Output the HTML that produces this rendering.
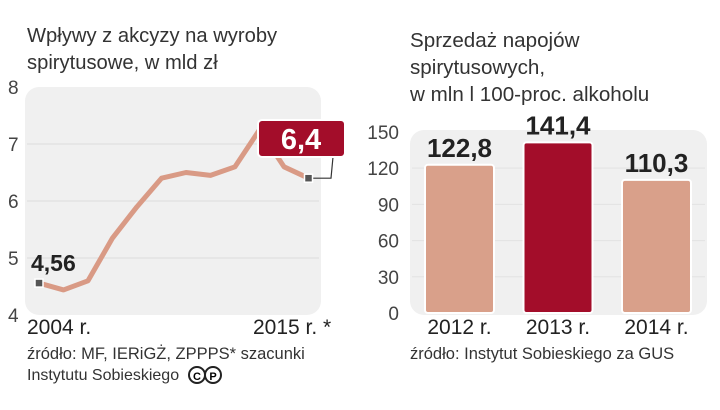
<!DOCTYPE html>
<html><head><meta charset="utf-8"><style>
body{margin:0;width:720px;height:405px;background:#fff;overflow:hidden;font-family:"Liberation Sans",sans-serif;color:#333}
svg text{font-family:"Liberation Sans",sans-serif}
</style></head><body>
<svg width="720" height="405">
<text x="27" y="42" font-size="20.2" fill="#333">Wpływy z akcyzy na wyroby</text>
<text x="27" y="69" font-size="20.2" fill="#333">spirytusowe, w mld zł</text>
<text x="410" y="47" font-size="20.6" fill="#333">Sprzedaż napojów</text>
<text x="410" y="74" font-size="20.6" fill="#333">spirytusowych,</text>
<text x="410" y="101" font-size="20.6" fill="#333">w mln l 100-proc. alkoholu</text>
<rect x="25" y="87" width="296" height="228" rx="14" fill="#f0f0f0"/>
<rect x="410" y="130" width="297" height="185" rx="14" fill="#f0f0f0"/>
<g id="left"></g><g id="right"></g>
<text x="27" y="359" font-size="16.5" fill="#333">źródło: MF, IERiGŻ, ZPPPS* szacunki</text>
<text x="27" y="380" font-size="16" fill="#333">Instytutu Sobieskiego</text>
<g><circle cx="197" cy="375" r="8" fill="none" stroke="#222" stroke-width="2"/><text x="197" y="380" font-size="11" font-weight="bold" text-anchor="middle">C</text><circle cx="213" cy="375" r="8" fill="none" stroke="#222" stroke-width="2"/><text x="213" y="380" font-size="11" font-weight="bold" text-anchor="middle">P</text></g>
<text x="410" y="359" font-size="16.5" fill="#333">źródło: Instytut Sobieskiego za GUS</text>
</svg>
<script>
const years=[2004,2005,2006,2007,2008,2009,2010,2011,2012,2013,2014,2015];
const revenue=[4.56,4.44,4.6,5.35,5.9,6.4,6.5,6.45,6.6,7.25,6.6,6.4];
const yTicksL=[4,5,6,7,8];
const barCats=["2012 r.","2013 r.","2014 r."];
const barVals=[122.8,141.4,110.3];
const barLabels=["122,8","141,4","110,3"];
const yTicksR=[0,30,60,90,120,150];
const NS="http://www.w3.org/2000/svg";
function mk(p,t,a){const e=document.createElementNS(NS,t);for(const k in a)e.setAttribute(k,a[k]);p.appendChild(e);return e;}
const L=document.getElementById('left');
const xL=i=>39+i*(308.5-39)/(years.length-1);
const yL=v=>315-(v-4)*57;
yTicksL.forEach(t=>{
 if(t>4&&t<8){const g=mk(L,'line',{x1:27,x2:319,y1:yL(t),y2:yL(t),stroke:'#dcdcdc','stroke-width':1});
 
 }
 const tx=mk(L,'text',{x:8,y:yL(t)+7,'font-size':19,fill:'#444'});tx.textContent=t;
 
 
});
const pl=mk(L,'polyline',{points:revenue.map((v,i)=>xL(i)+','+yL(v)).join(' '),fill:'none',stroke:'#d99a85','stroke-width':5,'stroke-linejoin':'round'});


const n=revenue.length-1;
const cx=mk(L,'polyline',{points:`${xL(n)},${yL(revenue[n])} 331,${yL(revenue[n])} 333,157`,fill:'none',stroke:'#333','stroke-width':1.2});


[0,n].forEach(i=>{const m=mk(L,'rect',{x:xL(i)-4,y:yL(revenue[i])-4,width:8,height:8,fill:'#555',stroke:'#fff','stroke-width':1.5});
 
 });
const st=mk(L,'text',{x:31,y:271,'font-size':23,'font-weight':'bold',fill:'#222'});st.textContent='4,56';


const bx=mk(L,'rect',{x:258,y:120,width:87,height:37,rx:4,fill:'#a30d2a',stroke:'#fff','stroke-width':2});


const bt=mk(L,'text',{x:301,y:149,'font-size':29,'font-weight':'bold',fill:'#fff','text-anchor':'middle'});bt.textContent='6,4';


const x1=mk(L,'text',{x:27,y:334,'font-size':21,fill:'#222'});x1.textContent='2004 r.';


const x2=mk(L,'text',{x:253,y:334,'font-size':21,fill:'#222'});x2.textContent='2015 r. *';


const R=document.getElementById('right');
const yR=v=>313-v*1.207;
yTicksR.forEach(t=>{
 if(t>0&&t<150){const g=mk(R,'line',{x1:412,x2:705,y1:yR(t),y2:yR(t),stroke:'#e2e2e2','stroke-width':1});
 
 }
 const tx=mk(R,'text',{x:399,y:yR(t)+7,'font-size':19,fill:'#444','text-anchor':'end'});tx.textContent=t;
 
 
});
const xR=i=>425+i*98.5;
barVals.forEach((v,i)=>{
 const b=mk(R,'rect',{x:xR(i),y:yR(v),width:69,height:313-yR(v),rx:3,fill:i===1?'#a30d2a':'#d9a08a',stroke:'#fff','stroke-width':2});
 
 
 const t=mk(R,'text',{x:xR(i)+34.5,y:yR(v)-8,'font-size':26,'font-weight':'bold',fill:'#222','text-anchor':'middle'});t.textContent=barLabels[i];
 
 
 const c=mk(R,'text',{x:xR(i)+34.5,y:334,'font-size':21,fill:'#222','text-anchor':'middle'});c.textContent=barCats[i];
 
 
});
</script>
</body></html>
